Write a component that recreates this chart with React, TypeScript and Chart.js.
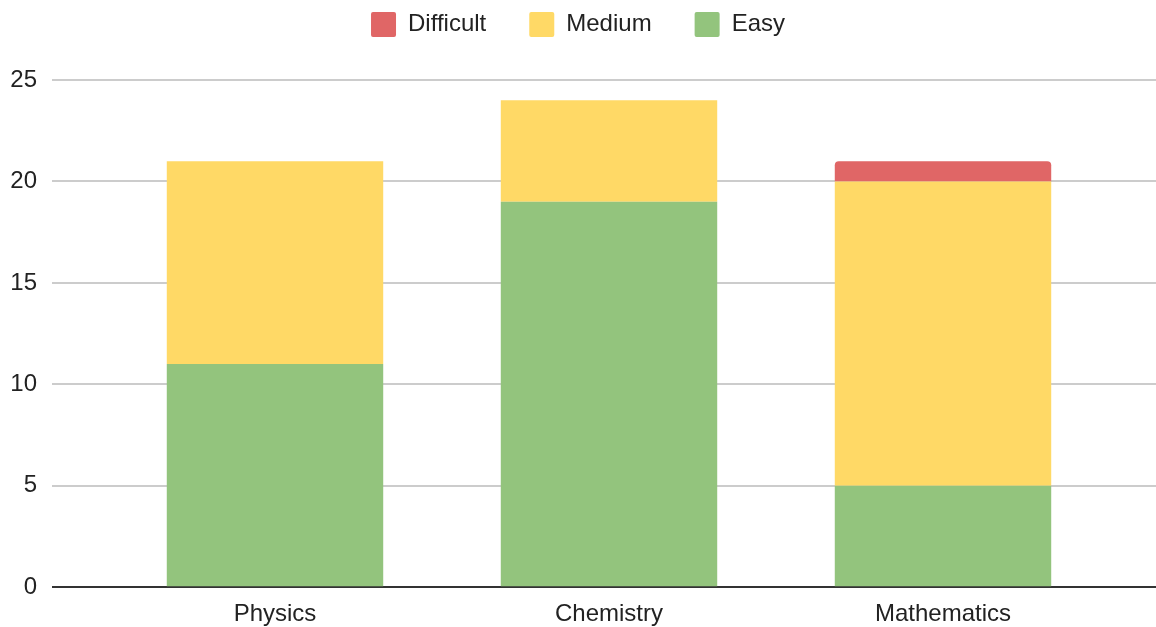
import { useEffect, useRef } from "react";
import { Chart, registerables } from "chart.js";

Chart.register(...registerables);

const categories = ["Physics", "Chemistry", "Mathematics"];
const easyValues = [11, 19, 5];
const mediumValues = [10, 5, 15];
const difficultValues = [0, 0, 1];
const yMin = 0;
const yMax = 25;
const yStep = 5;

const FONT = "'Liberation Sans', Arial, Helvetica, sans-serif";

export default function App() {
  const ref = useRef<HTMLCanvasElement>(null);

  useEffect(() => {
    if (!ref.current) return;
    const font = { family: FONT, size: 24 };
    const gridColor = (c: any) => (c.tick && c.tick.value === 0 ? "#333333" : "#cccccc");
    const gridWidth = (c: any) => (c.tick && c.tick.value === 0 ? 2 : 2);

    const legendHeight = {
      id: "legendHeight",
      beforeLayout(chart: any) {
        const lg = chart.legend;
        if (lg && !lg._patched) {
          const f = lg.fit;
          lg.fit = function () {
            f.call(this);
            this.height = 111;
          };
          lg._patched = true;
        }
      },
    };

    const chart = new Chart(ref.current, {
      type: "bar",
      data: {
        labels: categories,
        datasets: [
          {
            label: "Easy",
            data: easyValues,
            backgroundColor: "#93c47d",
            borderWidth: 0,
          },
          {
            label: "Medium",
            data: mediumValues,
            backgroundColor: "#ffd966",
            borderWidth: 0,
          },
          {
            label: "Difficult",
            data: difficultValues,
            backgroundColor: "#e06666",
            borderWidth: 0,
            borderRadius: { topLeft: 4, topRight: 4, bottomLeft: 0, bottomRight: 0 },
            borderSkipped: false,
          },
        ],
      },
      options: {
        animation: false,
        responsive: true,
        maintainAspectRatio: false,
        layout: { padding: { top: -31, bottom: -15, left: 0, right: 0 } },
        datasets: {
          bar: { barPercentage: 0.648, categoryPercentage: 1 },
        },
        plugins: {
          tooltip: { enabled: false },
          legend: {
            position: "top",
            reverse: true,
            labels: {
              font,
              color: "#222222",
              boxWidth: 25,
              boxHeight: 25,
              padding: 43,
              useBorderRadius: true,
              borderRadius: 2,
            },
          },
        },
        scales: {
          x: {
            stacked: true,
            grid: { display: false, drawTicks: false },
            border: { display: false },
            ticks: { font, color: "#222222", padding: 13 },
          },
          y: {
            stacked: true,
            position: "left",
            min: yMin,
            max: yMax,
            border: { display: false },
            grid: { color: gridColor, lineWidth: gridWidth, drawTicks: true, tickLength: 56 },
            ticks: { stepSize: yStep, font, color: "#222222", padding: 15 },
            afterFit: (s: any) => {
              s.width = 108;
            },
          },
          y2: {
            position: "right",
            min: yMin,
            max: yMax,
            border: { display: false },
            grid: { color: gridColor, lineWidth: gridWidth, drawTicks: true, tickLength: 46 },
            ticks: { stepSize: yStep, display: false },
            afterFit: (s: any) => {
              s.width = 46;
            },
          },
        },
      },
      plugins: [legendHeight],
    });

    return () => chart.destroy();
  }, []);

  return (
    <div style={{ position: "fixed", left: 0, top: 0, width: 1156, height: 627, background: "#ffffff" }}>
      <canvas ref={ref} />
    </div>
  );
}
